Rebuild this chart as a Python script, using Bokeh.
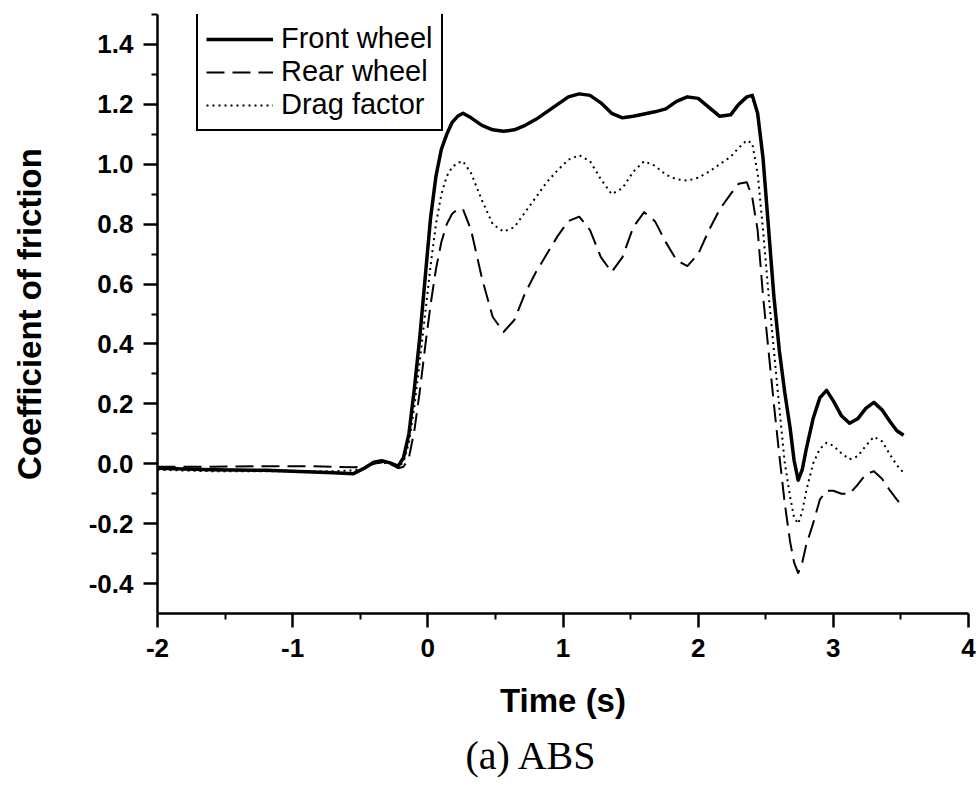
from bokeh.plotting import figure
from bokeh.models import FixedTicker, Legend, LegendItem, Title, Range1d
from bokeh.embed import file_html
from bokeh.resources import INLINE

# ---------------- data ----------------
time_s = [-2.0, -1.6, -1.2, -0.9, -0.7, -0.55, -0.47, -0.4, -0.34, -0.28,
          -0.22, -0.18, -0.14, -0.10, -0.06, -0.02, 0.02, 0.06, 0.10, 0.14,
          0.18, 0.22, 0.26, 0.32, 0.40, 0.48, 0.56, 0.64, 0.72, 0.80,
          0.88, 0.96, 1.04, 1.12, 1.20, 1.28, 1.36, 1.44, 1.52, 1.60,
          1.68, 1.76, 1.84, 1.92, 2.00, 2.08, 2.16, 2.24, 2.30, 2.36,
          2.40, 2.44, 2.48, 2.52, 2.56, 2.60, 2.64, 2.68, 2.71, 2.74,
          2.77, 2.80, 2.85, 2.90, 2.95, 3.00, 3.06, 3.12, 3.18, 3.24,
          3.30, 3.36, 3.42, 3.47, 3.52]

front_wheel = [-0.015, -0.02, -0.022, -0.027, -0.03, -0.033, -0.015, 0.005, 0.01, 0.003,
               -0.008, 0.02, 0.10, 0.25, 0.42, 0.62, 0.82, 0.96, 1.05, 1.10,
               1.14, 1.16, 1.17, 1.155, 1.13, 1.115, 1.11, 1.115, 1.13, 1.15,
               1.175, 1.20, 1.225, 1.235, 1.23, 1.205, 1.17, 1.155, 1.16, 1.168,
               1.175, 1.185, 1.21, 1.225, 1.22, 1.19, 1.16, 1.165, 1.20, 1.225,
               1.23, 1.17, 1.02, 0.79, 0.56, 0.38, 0.24, 0.12, 0.01, -0.055,
               -0.02, 0.05, 0.15, 0.22, 0.245, 0.21, 0.16, 0.135, 0.15, 0.185,
               0.205, 0.18, 0.14, 0.11, 0.095]

rear_wheel = [-0.01, -0.01, -0.008, -0.008, -0.01, -0.012, -0.01, 0.0, 0.005, 0.0,
              -0.015, -0.01, 0.02, 0.11, 0.24, 0.39, 0.53, 0.65, 0.74, 0.80,
              0.835, 0.85, 0.85, 0.78, 0.62, 0.49, 0.44, 0.48, 0.57, 0.64,
              0.70, 0.76, 0.81, 0.825, 0.78, 0.69, 0.64, 0.69, 0.79, 0.84,
              0.81, 0.74, 0.68, 0.66, 0.70, 0.78, 0.85, 0.90, 0.935, 0.94,
              0.89, 0.78, 0.56, 0.38, 0.20, 0.03, -0.13, -0.26, -0.33, -0.365,
              -0.33, -0.27, -0.20, -0.12, -0.09, -0.09, -0.10, -0.10, -0.07, -0.035,
              -0.025, -0.05, -0.09, -0.12, -0.145]

drag_factor = [-0.02, -0.025, -0.025, -0.025, -0.025, -0.022, -0.015, 0.0, 0.005, 0.0,
               -0.01, 0.005, 0.07, 0.19, 0.34, 0.50, 0.66, 0.80, 0.90, 0.96,
               0.99, 1.005, 1.01, 0.97, 0.88, 0.80, 0.775, 0.79, 0.84, 0.89,
               0.94, 0.98, 1.015, 1.03, 1.01, 0.95, 0.90, 0.92, 0.975, 1.01,
               0.995, 0.965, 0.95, 0.945, 0.955, 0.975, 1.00, 1.025, 1.055, 1.08,
               1.07, 0.97, 0.78, 0.57, 0.38, 0.19, 0.005, -0.11, -0.18, -0.20,
               -0.16, -0.09, 0.0, 0.05, 0.07, 0.06, 0.035, 0.015, 0.025, 0.06,
               0.09, 0.075, 0.03, -0.005, -0.03]

x_ticks = [-2, -1, 0, 1, 2, 3, 4]
x_tick_labels = ["-2", "-1", "0", "1", "2", "3", "4"]
x_minor = [-1.5, -0.5, 0.5, 1.5, 2.5, 3.5]
y_ticks = [-0.4, -0.2, 0.0, 0.2, 0.4, 0.6, 0.8, 1.0, 1.2, 1.4]
y_tick_labels = ["-0.4", "-0.2", "0.0", "0.2", "0.4", "0.6", "0.8", "1.0", "1.2", "1.4"]
y_minor = [-0.3, -0.1, 0.1, 0.3, 0.5, 0.7, 0.9, 1.1, 1.3, 1.5]

series_names = ["Front wheel", "Rear wheel", "Drag factor"]

# ---------------- figure ----------------
p = figure(width=977, height=786, output_backend="svg", toolbar_location=None,
           x_range=Range1d(-2, 4), y_range=Range1d(-0.5, 1.5),
           min_border_left=157, min_border_right=9, min_border_top=14,
           min_border_bottom=171, background_fill_color="white",
           border_fill_color="white")
p.outline_line_color = None
p.xgrid.visible = False
p.ygrid.visible = False

r_front = p.line(time_s, front_wheel, line_color="black", line_width=3.5,
                 line_join="round")
r_rear = p.line(time_s, rear_wheel, line_color="black", line_width=2,
                line_dash="18 8", line_join="round")
r_drag = p.line(time_s, drag_factor, line_color="black", line_width=2,
                line_dash="2 4", line_join="round")

FONT = "Liberation Sans"
for ax in (p.xaxis[0], p.yaxis[0]):
    ax.axis_line_width = 2.5
    ax.axis_line_color = "black"
    ax.major_tick_line_width = 2.5
    ax.minor_tick_line_width = 2
    ax.major_tick_out = 14
    ax.major_tick_in = 0
    ax.minor_tick_out = 6
    ax.minor_tick_in = 0
    ax.major_label_text_font = FONT
    ax.major_label_text_font_style = "bold"
    ax.major_label_text_font_size = "26px"
    ax.major_label_text_color = "black"
    ax.axis_label_text_font = FONT
    ax.axis_label_text_font_style = "bold"
    ax.axis_label_text_font_size = "33px"
    ax.axis_label_text_color = "black"

p.xaxis.ticker = FixedTicker(ticks=x_ticks, minor_ticks=x_minor)
p.xaxis.major_label_overrides = dict(zip(x_ticks, x_tick_labels))
p.xaxis.major_label_standoff = 11
p.xaxis.axis_label = "Time (s)"
p.xaxis.axis_label_standoff = 22

p.yaxis.ticker = FixedTicker(ticks=y_ticks, minor_ticks=y_minor)
p.yaxis.major_label_overrides = dict(zip(y_ticks, y_tick_labels))
p.yaxis.major_label_standoff = 10
p.yaxis.major_label_orientation = "horizontal"
p.yaxis.axis_label = "Coefficient of friction"
p.yaxis.axis_label_standoff = 38

legend = Legend(
    items=[LegendItem(label=series_names[0], renderers=[r_front]),
           LegendItem(label=series_names[1], renderers=[r_rear]),
           LegendItem(label=series_names[2], renderers=[r_drag])],
    location=(39, 482), border_line_color="black", border_line_width=2,
    border_line_alpha=1.0,
    background_fill_color="white", background_fill_alpha=1.0,
    label_text_font=FONT, label_text_font_size="29px", label_text_color="black",
    glyph_width=67, glyph_height=32, label_height=32, spacing=0, padding=8,
    label_standoff=8, margin=0)
p.add_layout(legend)

caption = Title(text="(a) ABS", align="left", offset=308,
                text_font="Liberation Serif", text_font_size="40px",
                text_font_style="normal", text_color="black", standoff=18)
p.add_layout(caption, "below")

open("out.html", "w").write(file_html(p, INLINE))
